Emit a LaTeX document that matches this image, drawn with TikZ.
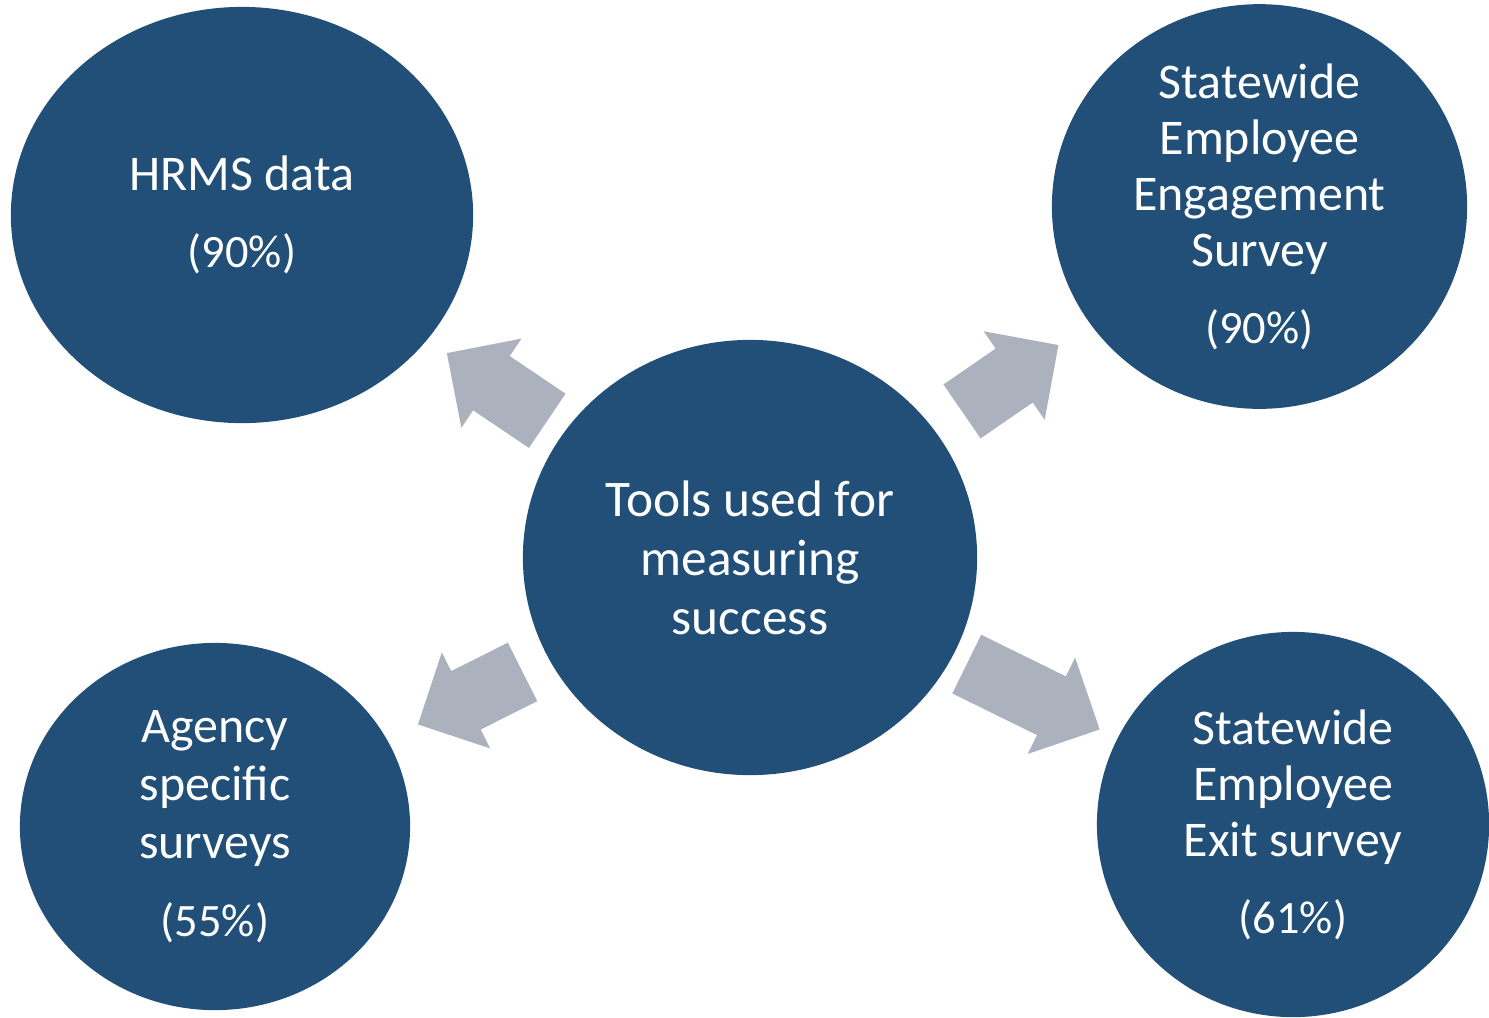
\documentclass[tikz,border=0pt]{standalone}
\usepackage{fontspec}
\setmainfont{Carlito}
\usepackage{tikz}
\usetikzlibrary{shapes.geometric}
\usetikzlibrary{shapes.arrows}
\usepackage{xcolor}
\definecolor{toolblue}{HTML}{214F78}
\definecolor{pointergray}{HTML}{ABB1BD}
\newcommand{\pctfont}{\fontsize{13.2}{16}\selectfont}

\begin{document}
\begin{tikzpicture}[x=0.01cm, y=-0.01cm]
        % tool = blue ellipse, pointer = grey block arrow sitting on the line between two centres
        \tikzstyle{tool}=[ellipse, fill=toolblue, text=white, align=center, inner sep=0pt, font=\fontsize{14.2}{16}\selectfont]
        \tikzstyle{pointer}=[single arrow, fill=pointergray, inner xsep=0pt, inner ysep=0.32cm, minimum width=1.06cm, single arrow head extend=0.21cm, sloped, allow upside down, anchor=tail]
        \useasboundingbox (0,0) rectangle (1489,1017);

        \node[tool, minimum width=4.54cm, minimum height=4.35cm, font=\fontsize{14.6}{16.8}\selectfont] (tools) at (750,557.5) {Tools used for\\measuring\\success};

        \node[tool, minimum width=4.62cm, minimum height=4.16cm] (hrms) at (242,215) {HRMS data\\[0.2cm]{\pctfont (90\%)}};
        \node[tool, minimum width=4.15cm, minimum height=4.03cm] (engage) at (1259.5,206.5) {Statewide\\Employee\\Engagement\\Survey\\[0.2cm]{\pctfont (90\%)}};
        \node[tool, minimum width=3.90cm, minimum height=3.67cm, font=\fontsize{14.2}{16.5}\selectfont] (agency) at (215,826.5) {Agency\\specific\\surveys\\[0.2cm]{\pctfont (55\%)}};
        \node[tool, minimum width=3.92cm, minimum height=3.85cm] (exit) at (1293,824.5) {Statewide\\Employee\\Exit survey\\[0.2cm]{\pctfont (61\%)}};

        \path (tools.center) -- node[pointer, pos=.398, minimum height=1.21cm] (toHRMS) {} (hrms.center);
        \path (tools.center) -- node[pointer, pos=.415, minimum height=1.17cm] (toEngage) {} (engage.center);
        \path (tools.center) -- node[pointer, pos=.424, minimum height=1.17cm] (toAgency) {} (agency.center);
        \path (tools.center) -- node[pointer, pos=.398, minimum height=1.48cm] (toExit) {} (exit.center);

\end{tikzpicture}
\end{document}
